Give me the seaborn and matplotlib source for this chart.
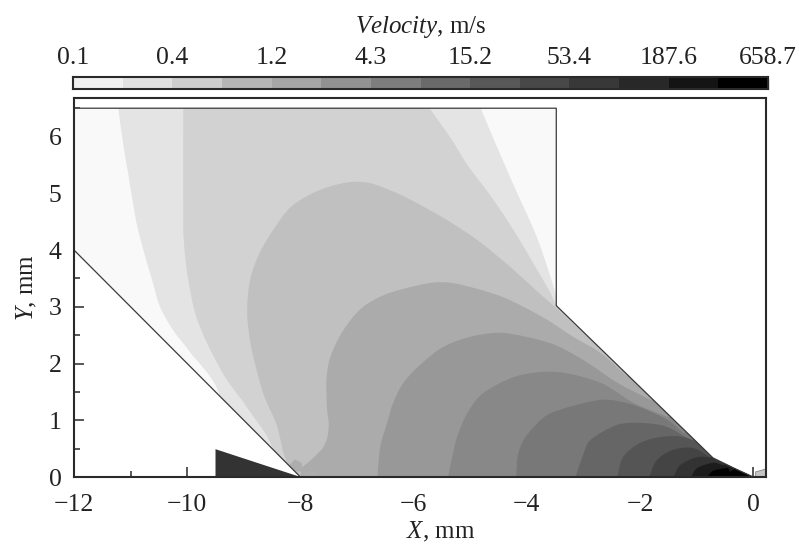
import matplotlib
matplotlib.use('Agg')
import matplotlib.pyplot as plt
from matplotlib.patches import Polygon, PathPatch
from matplotlib.path import Path
from matplotlib.ticker import MultipleLocator
import numpy as np
import seaborn as sns

# --
# Colorbar

bar_labels = ['0.1', '0.4', '1.2', '4.3', '15.2', '53.4', '187.6', '658.7']
bar_colors = ['#f1f1f1', '#e1e1e1', '#cecece', '#b6b6b6', '#a6a6a6', '#929292', '#7e7e7e',
              '#6a6a6a', '#585858', '#484848', '#383838', '#282828', '#141414', '#000000']
bar_cells = [list(range(14))]

# --
# Flow domain outline, mm

wall_x = [-12, -8, -9.5, -9.5, -8, 0, -0.35, -0.71, -3.48, -3.48, -12, -12]
wall_y = [4, 0, 0, 0, 0, 0, 0.16, 0.335, 3.02, 6.5, 6.5, 4]
domain_x = [-12, -8, 0, -0.35, -0.71, -3.48, -3.48, -12]
domain_y = [4, 0, 0, 0.16, 0.335, 3.02, 6.5, 6.5]

# --
# Velocity bands. Each one is the area on the fast side of a contour

field_bg = '#f9f9f9'
band_colors = ['#e4e4e4', '#d2d2d2', '#c0c0c0', '#ababab', '#989898', '#888888', '#787878',
               '#666666', '#555555', '#444444', '#333333', '#1c1c1c', '#020202']

c01_x = [-9.5, -9.42, -9.95, -10.25, -10.48, -10.62, -10.76, -10.90, -11.04, -11.13, -11.22, -11.24,
         -4.78, -4.82, -4.29, -3.82, -3.50, -3.48]
c01_y = [-0.5, 1.40, 2.20, 2.59, 3.00, 3.47, 3.95, 4.50, 5.33, 5.86, 6.51, 6.6,
         6.6, 6.51, 5.27, 4.22, 3.26, 3.02]
c02_x = [-8.5, -8.48, -8.94, -9.33, -9.65, -9.86, -9.98, -10.04, -10.07, -10.07, -10.07,
         -5.74, -5.72, -5.35, -5.05, -4.65, -4.29, -3.94, -3.59, -3.48]
c02_y = [-0.5, 0.46, 1.22, 1.76, 2.36, 2.89, 3.47, 3.92, 4.39, 6.5, 6.6,
         6.6, 6.5, 5.98, 5.50, 4.97, 4.44, 3.86, 3.26, 3.02]
c03_x = [-8.0, -8.18, -8.30, -8.34, -8.43, -8.66, -8.87, -8.94, -8.89, -8.72, -8.45, -8.18, -7.83,
         -7.48, -7.10, -6.73, -6.18, -5.48, -4.88, -4.29, -3.76, -3.48, -3.14, -2.65]
c03_y = [-0.1, 0.15, 0.42, 0.60, 0.95, 1.48, 2.29, 2.89, 3.47, 3.95, 4.40, 4.75, 4.98,
         5.12, 5.20, 5.17, 4.95, 4.57, 4.18, 3.70, 3.22, 2.98, 2.66, 2.22]
c04_x = [-8.0, -7.97, -7.78, -7.60, -7.52, -7.50, -7.53, -7.54, -7.47, -7.24, -6.89, -6.41, -5.71,
         -5.32, -4.82, -4.42, -4.06, -3.64, -3.18, -2.70, -2.26]
c04_y = [0, 0.16, 0.33, 0.52, 0.72, 0.95, 1.20, 1.71, 2.12, 2.59, 3.00, 3.25, 3.42,
         3.42, 3.30, 3.17, 3.00, 2.77, 2.47, 2.19, 1.80]
c05_x = [-6.64, -6.59, -6.47, -6.36, -6.18, -5.88, -5.48, -5.0, -4.42, -3.59, -3.0, -2.40, -1.82]
c05_y = [0, 0.53, 0.95, 1.31, 1.66, 1.98, 2.29, 2.47, 2.54, 2.36, 2.06, 1.66, 1.36]
c06_x = [-5.39, -5.32, -5.23, -5.05, -4.77, -4.17, -3.46, -2.70, -2.12, -1.52]
c06_y = [0, 0.35, 0.71, 1.13, 1.48, 1.78, 1.85, 1.66, 1.31, 1.06]
c07_x = [-4.19, -4.15, -3.99, -3.59, -2.70, -2.12, -1.52, -1.24]
c07_y = [0, 0.42, 0.75, 1.12, 1.36, 1.27, 1.01, 0.78]
c08_x = [-3.14, -3.02, -2.88, -2.40, -1.94, -1.52, -1.11]
c08_y = [0, 0.35, 0.65, 0.92, 0.95, 0.88, 0.65]
c09_x = [-2.40, -2.30, -2.0, -1.59, -1.17, -0.81, -0.76]
c09_y = [0, 0.35, 0.60, 0.71, 0.69, 0.48, 0.39]
c10_x = [-1.84, -1.70, -1.41, -1.06, -0.76]
c10_y = [0, 0.30, 0.48, 0.51, 0.35]
c11_x = [-1.41, -1.29, -0.99, -0.71, -0.64]
c11_y = [0, 0.21, 0.35, 0.335, 0.28]
c12_x = [-1.10, -0.99, -0.71, -0.53]
c12_y = [0, 0.16, 0.25, 0.21]
c13_x = [-0.81, -0.71, -0.46, -0.41]
c13_y = [0, 0.11, 0.16, 0.09]

contours = [(c01_x, c01_y), (c02_x, c02_y), (c03_x, c03_y), (c04_x, c04_y), (c05_x, c05_y),
            (c06_x, c06_y), (c07_x, c07_y), (c08_x, c08_y), (c09_x, c09_y), (c10_x, c10_y),
            (c11_x, c11_y), (c12_x, c12_y), (c13_x, c13_y)]

# small patches at the slit edge and the two solid bodies
blob1_x = [-8.15, -8.2, -8.1, -7.98, -7.95]
blob1_y = [0.1, 0.2, 0.31, 0.25, 0.1]
blob2_x = [-7.97, -7.92, -7.77, -7.66]
blob2_y = [0, 0.1, 0.12, 0]
wedge_x = [-9.5, -9.5, -8]
wedge_y = [0, 0.49, 0]
tip_x = [0.04, 0.04, 0.22, 0.22]
tip_y = [0, 0.09, 0.14, 0]


# --
# Bezier through the read points, so the contour is not a polyline

def band_path(cx, cy):
    p = np.column_stack([cx, cy]).astype(float)
    n = len(p)
    verts = [p[0]]
    codes = [Path.MOVETO]
    d = np.linalg.norm(np.diff(p, axis=0), axis=1)
    t = np.zeros_like(p)
    t[1:-1] = p[2:] - p[:-2]
    t[0] = p[1] - p[0]
    t[-1] = p[-1] - p[-2]
    t = t / np.linalg.norm(t, axis=1)[:, None]
    for i in range(n - 1):
        left = d[i] if i == 0 else min(d[i - 1], d[i])
        right = d[i] if i == n - 2 else min(d[i], d[i + 1])
        verts += [p[i] + t[i] * left / 3, p[i + 1] - t[i + 1] * right / 3, p[i + 1]]
        codes += [Path.CURVE4] * 3
    # close outside the domain, the clip takes care of the rest
    verts += [np.array([1.0, 1.0]), np.array([1.0, -1.0]), p[0]]
    codes += [Path.LINETO, Path.LINETO, Path.CLOSEPOLY]
    return Path(np.array(verts), codes)


# --
# Style

sns.set_style('ticks')
plt.rcParams['font.family'] = ['Liberation Serif']
plt.rcParams['mathtext.fontset'] = 'custom'
plt.rcParams['mathtext.it'] = 'Liberation Serif:italic'
plt.rcParams['mathtext.rm'] = 'Liberation Serif'
plt.rcParams['text.color'] = '#222222'
plt.rcParams['axes.labelcolor'] = '#222222'
plt.rcParams['xtick.labelcolor'] = '#222222'
plt.rcParams['ytick.labelcolor'] = '#222222'
dark = '#2a2a2a'

W, H = 799.0, 545.0
fig = plt.figure(figsize=(W / 100, H / 100), dpi=100)
ax = fig.add_axes([74 / W, 1 - 477 / H, 692 / W, 379 / H])
cax = fig.add_axes([73 / W, 1 - 89 / H, 695 / W, 12 / H])

# --
# Field

ax.set_xlim(-12, 0.225)
ax.set_ylim(0, 6.68)

domain = Polygon(list(zip(domain_x, domain_y)), closed=True, facecolor=field_bg, edgecolor='none', zorder=1)
ax.add_patch(domain)

for (cx, cy), col in zip(contours, band_colors):
    band = PathPatch(band_path(cx, cy), facecolor=col, edgecolor='none', lw=0, zorder=2)
    ax.add_patch(band)
    band.set_clip_path(domain)

for bx, by in ((blob1_x, blob1_y), (blob2_x, blob2_y)):
    poly = ax.fill(bx, by, color='#adadad', lw=0, zorder=3)[0]
    poly.set_clip_path(domain)

ax.fill(wedge_x, wedge_y, color='#333333', lw=0, zorder=3)
ax.fill(tip_x, tip_y, color='#c4c4c4', edgecolor='#777777', lw=0.5, zorder=3)

sns.lineplot(x=wall_x, y=wall_y, ax=ax, sort=False, estimator=None, color='#3a3a3a', lw=0.9, zorder=4)

# --
# Axes

ax.xaxis.set_major_locator(MultipleLocator(2))
ax.xaxis.set_minor_locator(MultipleLocator(1))
ax.yaxis.set_major_locator(MultipleLocator(1))
ax.yaxis.set_minor_locator(MultipleLocator(0.5))
ax.tick_params(which='major', direction='in', length=7.5, width=1.1, color=dark, labelsize=18.5)
ax.tick_params(which='minor', direction='in', length=4, width=1.1, color=dark)
ax.tick_params(axis='x', which='major', pad=12)
ax.tick_params(axis='y', which='major', pad=9)
ax.set_zorder(2)
for s in ax.spines.values():
    s.set_visible(True)
    s.set_linewidth(1.5)
    s.set_color(dark)
    s.set_zorder(6)

ax.set_xlabel(r'$\mathit{X}$, mm', fontsize=18, x=0.53, labelpad=3)
ax.set_ylabel(r'$\mathit{Y}$, mm', fontsize=18, labelpad=7)

# --
# Colorbar, top

sns.heatmap(bar_cells, ax=cax, cmap=bar_colors, cbar=False, xticklabels=False, yticklabels=False)
cax.set_xticks(range(0, 15, 2))
cax.set_xticklabels(bar_labels)
cax.set_yticks([])
cax.tick_params(axis='x', bottom=True, top=False, labelbottom=False, labeltop=True,
                direction='in', length=8, width=0.9, color=dark, labelsize=18.5, pad=6)
cax.xaxis.set_label_position('top')
cax.set_xlabel(r'$\mathit{Velocity}$, m/s', fontsize=18, labelpad=10)
for s in cax.spines.values():
    s.set_visible(True)
    s.set_linewidth(1.5)
    s.set_color(dark)

fig.savefig('out.png', dpi=100)
